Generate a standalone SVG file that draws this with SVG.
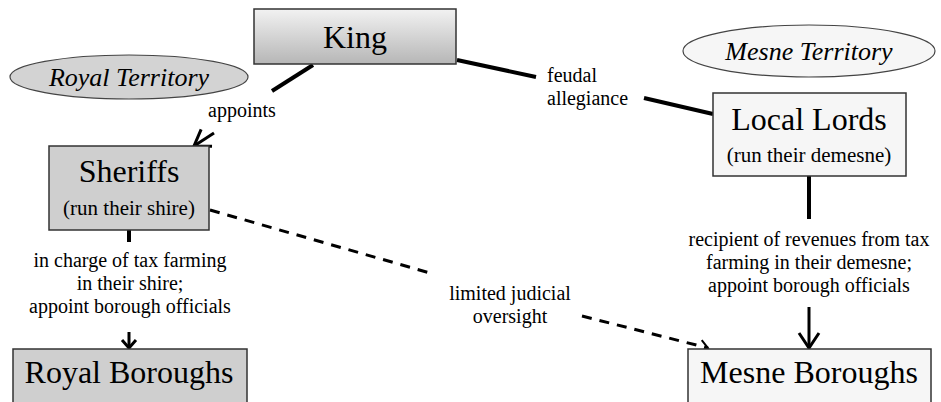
<svg xmlns="http://www.w3.org/2000/svg" width="941" height="402" viewBox="0 0 941 402" font-family="'Liberation Serif', 'Times New Roman', Times, serif">
<style>
.t32{font-size:32px;text-anchor:middle}
.t21{font-size:21px;text-anchor:middle}
.ital{font-size:26px;font-style:italic;text-anchor:middle}
.lbl{font-size:20px;text-anchor:middle}
.box{stroke:#333;stroke-width:1.5}
.gray{fill:#cfcfcf}
.light{fill:#f6f6f6}
.solid{stroke:#000;stroke-width:4;fill:none}
.thin{stroke:#000;stroke-width:3;fill:none}
.dash{stroke:#000;stroke-width:3;fill:none;stroke-dasharray:10 8}
</style>
<defs>
<linearGradient id="kingGrad" x1="0" y1="0" x2="0" y2="1">
<stop offset="0" stop-color="#f2f2f2"/>
<stop offset="1" stop-color="#b6b6b6"/>
</linearGradient>
<marker id="arrL" markerUnits="userSpaceOnUse" viewBox="0 0 24 24" markerWidth="24" markerHeight="24" refX="21" refY="12" orient="auto">
<path d="M6,2 L21,12 L6,22" fill="none" stroke="#000" stroke-width="3"/>
</marker>
<marker id="arrS" markerUnits="userSpaceOnUse" viewBox="0 0 20 20" markerWidth="20" markerHeight="20" refX="17" refY="10" orient="auto">
<path d="M9,3 L17,10 L9,17" fill="none" stroke="#000" stroke-width="3"/>
</marker>
<marker id="arrD" markerUnits="userSpaceOnUse" viewBox="0 0 20 20" markerWidth="20" markerHeight="20" refX="17" refY="10" orient="auto">
<path d="M9,4 L17,10 L9,16" fill="none" stroke="#000" stroke-width="2"/>
</marker>
</defs>

<g id="royal-territory">
<ellipse cx="129" cy="77" rx="119" ry="22" fill="#d3d3d3" stroke="#444" stroke-width="1.2"/>
<text class="ital" x="129" y="86">Royal Territory</text>
</g>
<g id="mesne-territory">
<ellipse cx="809" cy="51" rx="126" ry="26" fill="#f6f6f6" stroke="#444" stroke-width="1.2"/>
<text class="ital" x="809" y="60">Mesne Territory</text>
</g>

<g id="connectors">
<line class="solid" x1="313" y1="65" x2="272" y2="91"/>
<line class="thin" x1="214" y1="133" x2="194" y2="146" marker-end="url(#arrL)"/>
<line class="solid" x1="457" y1="60" x2="536" y2="77"/>
<line class="solid" x1="644" y1="98" x2="713" y2="114"/>
<line class="solid" x1="129" y1="230" x2="129" y2="242"/>
<line class="thin" x1="129" y1="332" x2="129" y2="348" marker-end="url(#arrS)"/>
<line class="solid" x1="809" y1="176" x2="809" y2="219"/>
<line class="thin" x1="809" y1="307" x2="809" y2="348" marker-end="url(#arrL)"/>
<line class="dash" x1="210" y1="210" x2="430" y2="273"/>
<line class="dash" x1="582" y1="316" x2="708" y2="348" marker-end="url(#arrD)"/>
<text class="lbl" x="242" y="117">appoints</text>
<text style="font-size:20px" x="547" y="82">feudal</text>
<text style="font-size:20px" x="547" y="105">allegiance</text>
<text class="lbl" x="130" y="267">in charge of tax farming</text>
<text class="lbl" x="130" y="290">in their shire;</text>
<text class="lbl" x="130" y="313">appoint borough officials</text>
<text class="lbl" x="809" y="246">recipient of revenues from tax</text>
<text class="lbl" x="809" y="269">farming in their demesne;</text>
<text class="lbl" x="809" y="292">appoint borough officials</text>
<text class="lbl" x="510" y="300">limited judicial</text>
<text class="lbl" x="510" y="323">oversight</text>
</g>

<g id="king">
<rect class="box" x="254" y="9" width="202" height="55" fill="url(#kingGrad)"/>
<text class="t32" x="355" y="48">King</text>
</g>
<g id="sheriffs">
<rect class="box gray" x="49" y="146" width="160" height="84"/>
<text class="t32" x="129" y="182">Sheriffs</text>
<text class="t21" x="129" y="215">(run their shire)</text>
</g>
<g id="local-lords">
<rect class="box light" x="713" y="93" width="193" height="83"/>
<text class="t32" x="809" y="130">Local Lords</text>
<text class="t21" x="809" y="162">(run their demesne)</text>
</g>
<g id="royal-boroughs">
<rect class="box gray" x="13" y="349" width="234" height="60"/>
<text class="t32" x="129" y="383">Royal Boroughs</text>
</g>
<g id="mesne-boroughs">
<rect class="box light" x="688" y="349" width="243" height="60"/>
<text class="t32" x="809" y="383">Mesne Boroughs</text>
</g>
</svg>
